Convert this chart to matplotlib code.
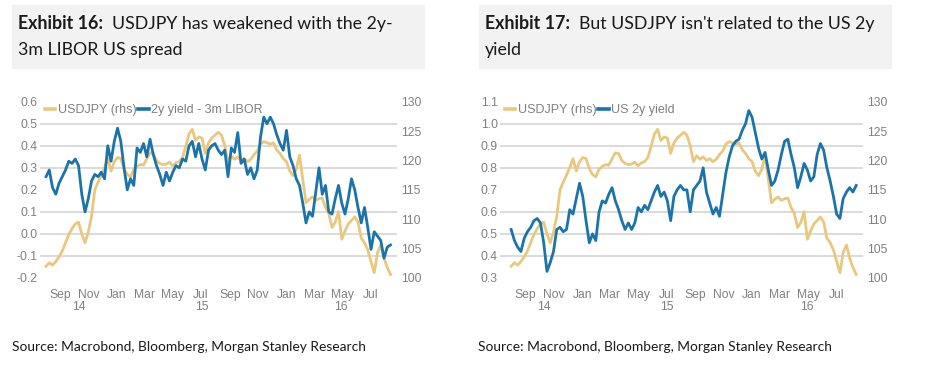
import numpy as np
import pandas as pd
import matplotlib
matplotlib.use("Agg")
import matplotlib.pyplot as plt
import matplotlib.dates as mdates
from matplotlib.ticker import FixedLocator, FuncFormatter
from matplotlib.lines import Line2D
from matplotlib.patches import Rectangle

W, H = 936, 380
GOLD = "#EAC77E"
BLUE = "#1A74AA"
GRID = "#d4d4d4"
TICK = "#808080"
TITLE_FONT = ["Lato", "DejaVu Sans"]
AXIS_FONT = ["Liberation Sans", "DejaVu Sans"]

# weekly readings, first Friday of Aug 2014 onwards
weeks = pd.date_range("2014-08-01", periods=107, freq="7D")

usdjpy = [
    102.0, 102.6, 102.2, 102.8, 103.6, 104.6, 106.0, 107.4, 108.4, 109.2,
    109.5, 107.5, 106.0, 107.8, 110.5, 115.0, 116.3, 117.5, 118.8, 120.3,
    118.2, 119.8, 120.5, 120.3, 118.6, 117.6, 117.2, 118.5, 119.0, 119.3,
    119.2, 120.3, 121.3, 121.2, 120.0, 119.5, 119.3, 119.4, 119.7, 119.1,
    119.6, 119.8, 120.5, 122.4, 124.5, 125.3, 123.4, 124.0, 123.8, 121.2,
    123.0, 123.8, 124.3, 124.8, 124.3, 122.5, 119.8, 120.8, 120.2, 120.6,
    120.0, 120.3, 119.8, 120.2, 121.0, 121.6, 122.8, 123.2, 123.0, 122.8,
    123.0, 121.8, 121.2, 120.3, 119.8, 118.2, 117.4, 118.5, 120.9, 116.8,
    112.8, 113.4, 113.8, 113.2, 113.5, 113.6, 112.0, 111.0, 108.6, 109.5,
    111.3, 106.6, 108.0, 109.2, 109.8, 110.4, 109.5, 106.8, 106.0, 104.8,
    102.8, 100.9, 104.3, 105.6, 103.4, 101.8, 100.6,
]

spread_2y_3m = [
    0.26, 0.29, 0.21, 0.18, 0.23, 0.26, 0.29, 0.33, 0.32, 0.34,
    0.31, 0.18, 0.10, 0.16, 0.24, 0.27, 0.26, 0.28, 0.25, 0.40,
    0.33, 0.42, 0.48, 0.42, 0.30, 0.20, 0.25, 0.22, 0.39, 0.37,
    0.41, 0.35, 0.43, 0.36, 0.31, 0.27, 0.22, 0.28, 0.24, 0.28,
    0.31, 0.30, 0.34, 0.33, 0.40, 0.42, 0.35, 0.41, 0.34, 0.29,
    0.38, 0.40, 0.41, 0.38, 0.36, 0.38, 0.26, 0.39, 0.37, 0.46,
    0.32, 0.34, 0.27, 0.30, 0.25, 0.29, 0.44, 0.53, 0.50, 0.53,
    0.50, 0.45, 0.41, 0.38, 0.47, 0.35, 0.31, 0.25, 0.22, 0.14,
    0.05, 0.10, 0.08, 0.19, 0.30, 0.18, 0.22, 0.10, 0.09, 0.16,
    0.22, 0.14, 0.09, 0.16, 0.25, 0.20, 0.12, 0.05, 0.12, 0.03,
    -0.07, 0.01, -0.01, -0.03, -0.11, -0.06, -0.05,
]

us_2y = [
    0.52, 0.47, 0.44, 0.42, 0.48, 0.51, 0.53, 0.56, 0.57, 0.55,
    0.46, 0.33, 0.37, 0.42, 0.52, 0.53, 0.51, 0.52, 0.61, 0.59,
    0.66, 0.73, 0.67, 0.56, 0.46, 0.50, 0.47, 0.60, 0.65, 0.64,
    0.68, 0.71, 0.65, 0.61, 0.56, 0.52, 0.55, 0.52, 0.55, 0.62,
    0.60, 0.63, 0.61, 0.65, 0.69, 0.72, 0.67, 0.69, 0.65, 0.56,
    0.67, 0.70, 0.72, 0.70, 0.70, 0.60, 0.70, 0.72, 0.74, 0.80,
    0.69, 0.64, 0.59, 0.62, 0.58, 0.68, 0.78, 0.85, 0.90, 0.92,
    0.93, 0.97, 1.00, 1.06, 1.03, 0.96, 0.89, 0.84, 0.87, 0.79,
    0.72, 0.74, 0.79, 0.86, 0.92, 0.93, 0.86, 0.80, 0.71, 0.76,
    0.82, 0.79, 0.74, 0.76, 0.86, 0.91, 0.88, 0.80, 0.74, 0.67,
    0.59, 0.57, 0.66, 0.69, 0.71, 0.69, 0.72,
]

month_ticks = pd.date_range("2014-09-01", "2016-07-01", freq="2MS")
year_labels = ["14", "15", "16"]
year_pos = pd.to_datetime(["2014-10-10", "2015-07-02", "2016-04-28"])
rhs_ticks = [100, 105, 110, 115, 120, 125, 130]
source = "Source: Macrobond, Bloomberg, Morgan Stanley Research"

fig = plt.figure(figsize=(W / 100, H / 100), dpi=100)


def box(x0, y0, x1, y1):
    return [x0 / W, 1 - y1 / H, (x1 - x0) / W, (y1 - y0) / H]


def title(x0, x1, tx, head, line1, line2):
    fig.patches.append(Rectangle((x0 / W, 1 - 67.7 / H), (x1 - x0) / W, 62.7 / H,
                                 transform=fig.transFigure, color="#f2f2f2", zorder=0))
    t = fig.text(tx / W, 1 - 29.3 / H, head, fontsize=12.8, weight="bold",
                 family=TITLE_FONT, color="#1a1a1a")
    r = fig.canvas.get_renderer()
    x_end = t.get_window_extent(r).x1
    fig.text((x_end + 9) / W, 1 - 29.3 / H, line1, fontsize=12.8,
             family=TITLE_FONT, color="#1a1a1a")
    fig.text(tx / W, 1 - 55 / H, line2, fontsize=12.8, family=TITLE_FONT, color="#1a1a1a")


def panel(x0, x1, xleft, values, lo, hi, label):
    ax = fig.add_axes(box(x0, 101.7, x1, 278))
    ax2 = ax.twinx()
    ax.set_zorder(ax2.get_zorder() + 1)
    ax.patch.set_visible(False)

    ax2.plot(weeks, usdjpy, color=GOLD, lw=2.0, solid_joinstyle="round")
    ax.plot(weeks, values, color=BLUE, lw=2.0, solid_joinstyle="round")

    ax.set_xlim(pd.Timestamp(xleft), pd.Timestamp("2016-08-26"))
    ax.set_ylim(lo, hi)
    ax2.set_ylim(100, 130)

    left_ticks = np.round(np.arange(lo, hi + 0.001, 0.1), 1)
    ax.yaxis.set_major_locator(FixedLocator(left_ticks))
    ax.yaxis.set_major_formatter(FuncFormatter(lambda v, p: f"{v:.1f}"))
    ax2.yaxis.set_major_locator(FixedLocator(rhs_ticks))
    ax2.yaxis.set_minor_locator(FixedLocator(np.linspace(100, 130, len(left_ticks))))
    ax2.grid(which="minor", color=GRID, lw=1.2)

    ax.xaxis.set_major_locator(FixedLocator(mdates.date2num(month_ticks)))
    ax.xaxis.set_major_formatter(mdates.DateFormatter("%b"))

    for a in (ax, ax2):
        for s in a.spines.values():
            s.set_visible(False)
        a.tick_params(which="both", length=0, labelsize=8.7, labelcolor=TICK)
        for lab in a.get_xticklabels() + a.get_yticklabels():
            lab.set_family(AXIS_FONT)
    ax.tick_params(axis="y", pad=1.5)
    ax2.tick_params(axis="y", pad=3)
    ax.tick_params(axis="x", pad=8)

    for yl, yp in zip(year_labels, year_pos):
        ax.text(yp, -0.165, yl, transform=ax.get_xaxis_transform(), ha="center", va="center",
                fontsize=8.7, color=TICK, family=AXIS_FONT)

    handles = [Line2D([], [], color=GOLD, lw=2.6), Line2D([], [], color=BLUE, lw=2.6)]
    ax.legend(handles, ["USDJPY (rhs)", label], loc="upper left",
              bbox_to_anchor=((x0 + 4.5) / W, 1 - 104 / H), bbox_transform=fig.transFigure,
              ncol=2, frameon=False, borderpad=0, borderaxespad=0, handlelength=0.85,
              handletextpad=0.2, columnspacing=0.15,
              prop={"family": AXIS_FONT, "size": 9}, labelcolor=TICK)


title(12, 424, 18.3, "Exhibit 16:", "USDJPY has weakened with the 2y-", "3m LIBOR US spread")
title(479, 890.7, 484.7, "Exhibit 17:", "But USDJPY isn't related to the US 2y", "yield")

panel(40, 397, "2014-07-19", spread_2y_3m, -0.2, 0.6, "2y yield - 3m LIBOR")
panel(500, 862.7, "2014-07-08", us_2y, 0.3, 1.1, "US 2y yield")

fig.text(12 / W, 1 - 347 / H, source, fontsize=9.9, family=TITLE_FONT, color="#1a1a1a", va="center")
fig.text(478 / W, 1 - 347 / H, source, fontsize=9.9, family=TITLE_FONT, color="#1a1a1a", va="center")

fig.savefig("out.png", dpi=100)
